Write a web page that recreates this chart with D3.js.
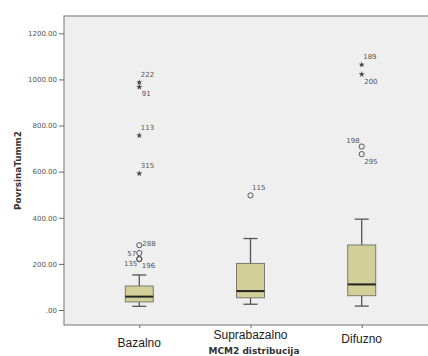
<!DOCTYPE html>
<html><head><meta charset="utf-8">
<script src="https://cdn.jsdelivr.net/npm/d3@7"></script>
<style>body{margin:0;background:#fff}svg{display:block}</style>
</head><body><svg id="c" width="428" height="356"></svg>
<script>
// ---- data ----
const categories = ["Bazalno", "Suprabazalno", "Difuzno"];
const lowerWhisker = [16, 25, 17];
const q1 = [35, 53, 62];
const median = [58, 82, 111];
const q3 = [104, 202, 282];
const upperWhisker = [152, 310, 394];
const outlierCategory = ["Bazalno","Bazalno","Bazalno","Bazalno","Bazalno","Bazalno","Bazalno","Bazalno","Suprabazalno","Difuzno","Difuzno","Difuzno","Difuzno"];
const outlierValue =    [987, 967, 757, 592, 281, 247, 222, 220, 497, 1064, 1022, 709, 676];
const outlierId =       ["222","91","113","315","288","57","196","135","115","189","200","198","295"];
const labelSide =       ["ur","lr","ur","ur","r","l","lr","ll","ur","ur","lr","ul","lr"];
const yTicks = [0, 200, 400, 600, 800, 1000, 1200];
const xTitle = "MCM2 distribucija";
const yTitle = "PovrsinaTumm2";

// ---- layout ----
const svg = d3.select("#c");
const pL = 64, pR = 437, pT = 16, pB = 325;
const y = d3.scaleLinear().domain([0, 1200]).range([310, 33.3]);
const x = d3.scalePoint().domain(categories).range([pL, pR]).padding(0.677);
const boxW = 28, capW = 14;
const labelOffsets = {
  ur: {dx: 1.5, dy: -8, anchor: "start"},
  lr: {dx: 2.5, dy: 7, anchor: "start"},
  ul: {dx: -2, dy: -6, anchor: "end"},
  r:  {dx: 3, dy: -2, anchor: "start"},
  l:  {dx: -3, dy: 1, anchor: "end"},
  ll: {dx: -2, dy: 4, anchor: "end"}
};
const catLabelShift = [4, -4, 0];

// frame
svg.append("rect").attr("x", pL).attr("y", pT).attr("width", pR - pL).attr("height", pB - pT)
  .attr("fill", "#efefef").attr("stroke", "#8a8a8a").attr("stroke-width", 1.2);

// y axis
const yAxis = d3.axisLeft(y).tickValues(yTicks).tickSize(5).tickPadding(2)
  .tickFormat(d => d === 0 ? ".00" : d3.format(".2f")(d));
const ya = svg.append("g").attr("transform", `translate(${pL},0)`).call(yAxis);
ya.select(".domain").remove();
ya.selectAll(".tick line").attr("stroke", "#666");
ya.selectAll(".tick text").attr("font-family", "DejaVu Sans").attr("font-size", 7).attr("fill", "#555");

// x axis
const xAxis = d3.axisBottom(x).tickSize(3).tickFormat("");
const xa = svg.append("g").attr("transform", `translate(0,${pB})`).call(xAxis);
xa.select(".domain").remove();
xa.selectAll(".tick line").attr("stroke", "#666");

// category labels
svg.append("g").selectAll("text").data(categories).join("text")
  .attr("x", d => x(d)).attr("y", (d, i) => 339 + catLabelShift[i])
  .attr("dy", "0.35em").attr("text-anchor", "middle")
  .attr("font-family", "Liberation Sans, Arial, sans-serif").attr("font-size", 12).attr("fill", "#222")
  .text(d => d);

// titles
svg.append("text").attr("x", 254).attr("y", 351).attr("dy", "0.35em").attr("text-anchor", "middle")
  .attr("font-family", "DejaVu Sans").attr("font-weight", "bold").attr("font-size", 9).attr("fill", "#333")
  .text(xTitle);
svg.append("text").attr("transform", `translate(18,${(pT + pB) / 2}) rotate(-90)`)
  .attr("dy", "0.35em").attr("text-anchor", "middle")
  .attr("font-family", "DejaVu Sans").attr("font-weight", "bold").attr("font-size", 8.8).attr("fill", "#333")
  .text(yTitle);

// boxes
const boxes = categories.map((c, i) => ({c, lo: lowerWhisker[i], q1: q1[i], med: median[i], q3: q3[i], hi: upperWhisker[i]}));
const g = svg.append("g").selectAll("g").data(boxes).join("g").attr("transform", d => `translate(${x(d.c)},0)`);
g.append("line").attr("y1", d => y(d.hi)).attr("y2", d => y(d.q3)).attr("stroke", "#555").attr("stroke-width", 1.3);
g.append("line").attr("y1", d => y(d.q1)).attr("y2", d => y(d.lo)).attr("stroke", "#555").attr("stroke-width", 1.3);
g.append("line").attr("x1", -capW / 2).attr("x2", capW / 2).attr("y1", d => y(d.hi)).attr("y2", d => y(d.hi)).attr("stroke", "#555").attr("stroke-width", 1.3);
g.append("line").attr("x1", -capW / 2).attr("x2", capW / 2).attr("y1", d => y(d.lo)).attr("y2", d => y(d.lo)).attr("stroke", "#555").attr("stroke-width", 1.3);
g.append("rect").attr("x", -boxW / 2).attr("width", boxW).attr("y", d => y(d.q3)).attr("height", d => y(d.q1) - y(d.q3))
  .attr("fill", "#d3cf98").attr("stroke", "#7a7a70").attr("stroke-width", 1);
g.append("line").attr("x1", -boxW / 2).attr("x2", boxW / 2).attr("y1", d => y(d.med)).attr("y2", d => y(d.med))
  .attr("stroke", "#222").attr("stroke-width", 2);

// outliers
const outliers = outlierValue.map((v, i) => {
  const ci = categories.indexOf(outlierCategory[i]);
  const iqr = q3[ci] - q1[ci];
  return {c: outlierCategory[i], v, id: outlierId[i], side: labelSide[i], extreme: v > q3[ci] + 3 * iqr};
});
const og = svg.append("g");
og.selectAll("circle").data(outliers.filter(d => !d.extreme)).join("circle")
  .attr("cx", d => x(d.c)).attr("cy", d => y(d.v)).attr("r", 2.6)
  .attr("fill", "none").attr("stroke", "#555").attr("stroke-width", 1);
og.selectAll("path").data(outliers.filter(d => d.extreme)).join("path")
  .attr("transform", d => `translate(${x(d.c)},${y(d.v)})`)
  .attr("d", d3.symbol().type(d3.symbolStar).size(12)).attr("fill", "#444");
og.selectAll("text").data(outliers).join("text")
  .attr("x", d => x(d.c) + labelOffsets[d.side].dx).attr("y", d => y(d.v) + labelOffsets[d.side].dy)
  .attr("dy", "0.35em").attr("text-anchor", d => labelOffsets[d.side].anchor)
  .attr("font-family", "DejaVu Sans").attr("font-size", 7).attr("fill", "#555")
  .text(d => d.id);
</script></body></html>
